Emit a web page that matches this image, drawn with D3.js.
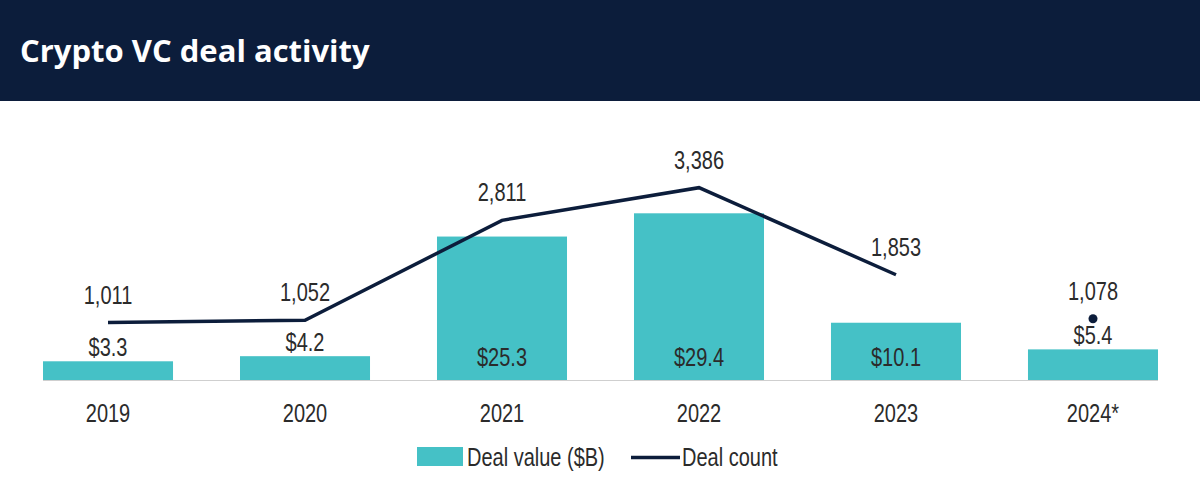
<!DOCTYPE html>
<html><head><meta charset="utf-8">
<script src="https://cdn.jsdelivr.net/npm/d3@7"></script>
<style>
html,body{margin:0;padding:0;background:#fff;}
svg{display:block;}
</style></head>
<body>
<svg id="chart" width="1200" height="491"></svg>
<script>
const years = ["2019","2020","2021","2022","2023","2024*"];
const dealValue = [3.3, 4.2, 25.3, 29.4, 10.1, 5.4];
const valueLabels = ["$3.3","$4.2","$25.3","$29.4","$10.1","$5.4"];
const dealCount = [1011, 1052, 2811, 3386, 1853, 1078];
const countLabels = ["1,011","1,052","2,811","3,386","1,853","1,078"];
const title = "Crypto VC deal activity";
const legendLabels = ["Deal value ($B)", "Deal count"];

const svg = d3.select("#chart");
const W = 1200, H = 491;
const navy = "#0c1d3b", teal = "#45c1c6", txt = "#2b2b2b";
const labFont = "'Liberation Sans',Arial,sans-serif";
const FS = 25, SX = 0.8;

svg.append("rect").attr("x",0).attr("y",0).attr("width",W).attr("height",101).attr("fill",navy);
svg.append("text").attr("x",20).attr("y",62).attr("fill","#fff")
  .attr("font-family","'Open Sans',sans-serif").attr("font-weight",700).attr("font-size",31)
  .text(title);

const x = d3.scaleBand().domain(years).range([43,1158]).paddingInner(0.34).paddingOuter(0);
const base = 380;
const yV = d3.scaleLinear().domain([0,30]).range([base, base-30*5.67]);
const yC = d3.scaleLinear().domain([0,3500]).range([base, base-3500*0.0568]);

function label(sel, anchor){
  return sel.attr("text-anchor",anchor||"middle").attr("fill",txt)
    .attr("font-family",labFont).attr("font-size",FS);
}
function place(px,py){ return `translate(${px},${py}) scale(${SX},1)`; }

svg.append("line").attr("x1",43).attr("x2",1158).attr("y1",base+0.5).attr("y2",base+0.5)
  .attr("stroke","#cfcfcf").attr("stroke-width",1);

svg.selectAll("rect.bar").data(years).enter().append("rect").attr("class","bar")
  .attr("x",d=>x(d)).attr("width",x.bandwidth())
  .attr("y",(d,i)=>yV(dealValue[i])).attr("height",(d,i)=>base-yV(dealValue[i]))
  .attr("fill",teal);

const cx = d => x(d)+x.bandwidth()/2;

label(svg.selectAll("text.val").data(years).enter().append("text").attr("class","val"))
  .attr("transform",(d,i)=>place(cx(d), dealValue[i] >= 10 ? base-14 : yV(dealValue[i]) - 5))
  .text((d,i)=>valueLabels[i]);

const lineYears = years.slice(0,5);
const line = d3.line().x(d=>cx(d)).y(d=>yC(dealCount[years.indexOf(d)]));
svg.append("path").datum(lineYears).attr("d",line).attr("fill","none")
  .attr("stroke",navy).attr("stroke-width",3.5).attr("stroke-linejoin","miter");
svg.append("circle").attr("cx",cx(years[5])).attr("cy",yC(dealCount[5])).attr("r",4.5).attr("fill",navy);

label(svg.selectAll("text.cnt").data(years).enter().append("text").attr("class","cnt"))
  .attr("transform",(d,i)=>place(cx(d), yC(dealCount[i]) - 19))
  .text((d,i)=>countLabels[i]);

const xAxis = d3.axisBottom(x).tickSize(0).tickPadding(0);
const gx = svg.append("g").attr("transform",`translate(0,${base+42})`).call(xAxis);
gx.select(".domain").remove();
gx.selectAll("text").attr("font-family",labFont).attr("font-size",FS).attr("fill",txt)
  .attr("dy","0").attr("transform",`scale(${SX},1)`).attr("x",0);
gx.selectAll(".tick").attr("transform",d=>`translate(${cx(d)},0)`);

// legend
const lg = svg.append("g");
lg.append("rect").attr("x",417).attr("y",447).attr("width",46).attr("height",19).attr("fill",teal);
label(lg.append("text"),"start").attr("transform",place(467,466)).text(legendLabels[0]);
lg.append("line").attr("x1",631).attr("x2",680).attr("y1",457.5).attr("y2",457.5).attr("stroke",navy).attr("stroke-width",3.5);
label(lg.append("text"),"start").attr("transform",place(682,466)).text(legendLabels[1]);
</script>
</body></html>
